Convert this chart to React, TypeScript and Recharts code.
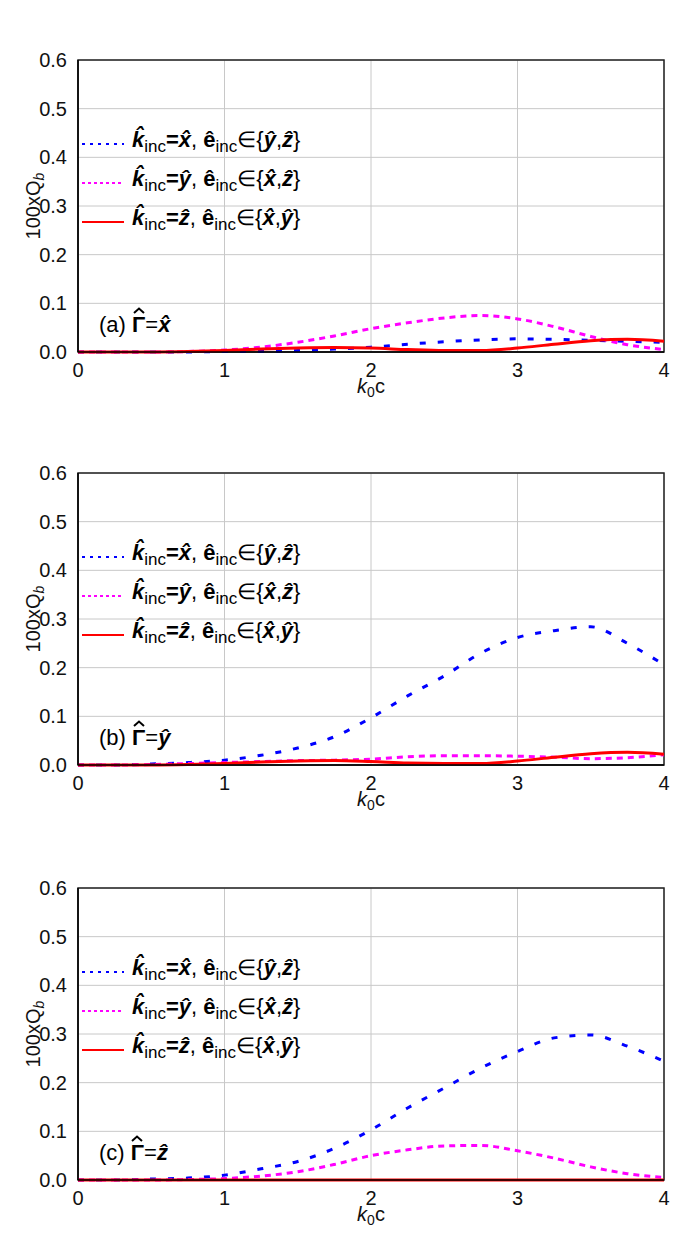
import React from "react";
import { LineChart, Line, XAxis, YAxis, CartesianGrid, ReferenceArea } from "recharts";

// k0c sample points
const kc = [0, 0.25, 0.5, 0.75, 1, 1.25, 1.5, 1.75, 2, 2.25, 2.5, 2.75, 3, 3.25, 3.5, 3.75, 4];

// (a) Gamma = x
const aKx = [0, 0, 0, 0, 0.001, 0.001, 0.003, 0.006, 0.01, 0.016, 0.021, 0.025, 0.027, 0.026, 0.024, 0.022, 0.02];
const aKy = [0, 0, 0, 0.001, 0.004, 0.01, 0.02, 0.033, 0.048, 0.06, 0.07, 0.075, 0.068, 0.052, 0.032, 0.015, 0.005];
const aKz = [0, 0, 0, 0.001, 0.003, 0.006, 0.008, 0.009, 0.008, 0.005, 0.003, 0.003, 0.008, 0.016, 0.023, 0.026, 0.022];

// (b) Gamma = y
const bKx = [0, 0, 0.002, 0.005, 0.01, 0.02, 0.035, 0.058, 0.097, 0.142, 0.183, 0.23, 0.262, 0.276, 0.284, 0.25, 0.206];
const bKy = [0, 0, 0.001, 0.003, 0.005, 0.007, 0.009, 0.01, 0.012, 0.017, 0.019, 0.019, 0.018, 0.016, 0.013, 0.015, 0.021];
const bKz = [0, 0, 0, 0.001, 0.003, 0.006, 0.008, 0.009, 0.007, 0.004, 0.003, 0.003, 0.008, 0.016, 0.023, 0.026, 0.022];

// (c) Gamma = z
const cKx = [0, 0, 0.002, 0.004, 0.01, 0.023, 0.038, 0.065, 0.103, 0.148, 0.189, 0.23, 0.264, 0.292, 0.298, 0.275, 0.244];
const cKy = [0, 0, 0, 0.001, 0.003, 0.008, 0.017, 0.032, 0.05, 0.062, 0.07, 0.071, 0.06, 0.045, 0.027, 0.013, 0.005];
const cKz = [0, 0, 0, 0, 0, 0, 0, 0, 0, 0, 0, 0, 0, 0, 0, 0, 0];

const xTicks = [0, 1, 2, 3, 4];
const yTicks = [0, 0.1, 0.2, 0.3, 0.4, 0.5, 0.6];

const FONT = "'Liberation Sans', Arial, sans-serif";
const HAT = "\u0302";

const series = [
  { key: "kx", color: "#0000ff", dash: "6 12", legendDash: "3 5", k: "x", e: ["y", "z"] },
  { key: "ky", color: "#ff00ff", dash: "6 5", legendDash: "3 3", k: "y", e: ["x", "z"] },
  { key: "kz", color: "#ff0000", dash: undefined, legendDash: undefined, k: "z", e: ["x", "y"] },
];

const bi: React.CSSProperties = { fontWeight: 700, fontStyle: "italic" };
const sub: React.CSSProperties = { fontSize: 17, fontWeight: 400, fontStyle: "normal", verticalAlign: -5 };

// capital letter with a drawn hat on top
const CapHat = ({ ch }: { ch: string }) => (
  <span style={{ position: "relative", display: "inline-block", fontWeight: 700 }}>
    {ch}
    <svg width={12} height={7} style={{ position: "absolute", left: "50%", marginLeft: -6, top: -5 }}>
      <polyline points="1,6 6,1.5 11,6" fill="none" stroke="#000" strokeWidth={2} />
    </svg>
  </span>
);

const LegendBox = () => (
  <div style={{ fontFamily: FONT, fontSize: 22, color: "#000" }}>
    {series.map((s) => (
      <div key={s.key} style={{ display: "flex", alignItems: "center", whiteSpace: "nowrap", height: 39 }}>
        <svg width={46} height={10} style={{ marginRight: 6 }}>
          <line x1={2} y1={5} x2={44} y2={5} stroke={s.color} strokeWidth={2} strokeDasharray={s.legendDash} />
        </svg>
        <span style={{ lineHeight: "26px" }}>
          <span style={bi}>{"k" + HAT}</span>
          <span style={sub}>inc</span>
          <b>=</b>
          <span style={bi}>{s.k + HAT}</span>, <b>{"e" + HAT}</b>
          <span style={sub}>inc</span>∈{"{"}
          <span style={bi}>{s.e[0] + HAT}</span>,<span style={bi}>{s.e[1] + HAT}</span>
          {"}"}
        </span>
      </div>
    ))}
  </div>
);

const XLabel = ({ viewBox }: any) => {
  const { x, y, width } = viewBox;
  return (
    <text x={x + width / 2} y={y + 41} textAnchor="middle" fontSize={20} fontFamily={FONT} fill="#111">
      <tspan fontStyle="italic">k</tspan>
      <tspan fontSize={14} dy={4}>0</tspan>
      <tspan dy={-4}>c</tspan>
    </text>
  );
};

const YLabel = ({ viewBox }: any) => {
  const { y, height } = viewBox;
  const cx = 40;
  const cy = y + height / 2;
  return (
    <text x={cx} y={cy} transform={`rotate(-90, ${cx}, ${cy})`} textAnchor="middle" fontSize={20} fontFamily={FONT} fill="#111">
      <tspan>100xQ</tspan>
      <tspan fontSize={14} fontStyle="italic" dy={4}>b</tspan>
    </text>
  );
};

type PanelProps = { tag: string; gamma: string; kx: number[]; ky: number[]; kz: number[] };

const Panel = ({ tag, gamma, kx, ky, kz }: PanelProps) => {
  const data = kc.map((x, i) => ({ x, kx: kx[i], ky: ky[i], kz: kz[i] }));
  const tick = { fontSize: 20, fontFamily: FONT, fill: "#111" };
  return (
    <div style={{ position: "relative", width: 692, height: 413 }}>
      <LineChart width={692} height={413} data={data} margin={{ top: 60, right: 28, left: 0, bottom: 21 }}>
        <CartesianGrid stroke="#c8c8c8" strokeWidth={1} />
        <XAxis
          dataKey="x"
          type="number"
          domain={[0, 4]}
          ticks={xTicks}
          tickLine={false}
          axisLine={{ stroke: "#000", strokeWidth: 1.5 }}
          tick={tick}
          tickMargin={5}
          height={40}
          label={<XLabel />}
        />
        <YAxis
          type="number"
          domain={[0, 0.6]}
          ticks={yTicks}
          tickFormatter={(v: number) => v.toFixed(1)}
          tickLine={false}
          axisLine={{ stroke: "#000", strokeWidth: 1.5 }}
          tick={tick}
          tickMargin={5}
          width={78}
          label={<YLabel />}
        />
        <ReferenceArea x1={0} x2={4} y1={0} y2={0.6} fill="none" stroke="#222" strokeWidth={1.5} />
        {series.map((s) => (
          <Line
            key={s.key}
            dataKey={s.key}
            type="monotone"
            stroke={s.color}
            strokeWidth={3}
            strokeDasharray={s.dash}
            dot={false}
            isAnimationActive={false}
          />
        ))}
      </LineChart>
      <div style={{ position: "absolute", left: 80, top: 124 }}>
        <LegendBox />
      </div>
      <div style={{ position: "absolute", left: 99, top: 312, fontFamily: FONT, fontSize: 22, color: "#000", lineHeight: "26px" }}>
        ({tag}) <CapHat ch="Γ" />=<span style={bi}>{gamma + HAT}</span>
      </div>
    </div>
  );
};

export default function App() {
  return (
    <div style={{ position: "absolute", left: 0, top: 0, width: 692, height: 1249, background: "#fff" }}>
      <Panel tag="a" gamma="x" kx={aKx} ky={aKy} kz={aKz} />
      <Panel tag="b" gamma="y" kx={bKx} ky={bKy} kz={bKz} />
      <div style={{ height: 2 }} />
      <Panel tag="c" gamma="z" kx={cKx} ky={cKy} kz={cKz} />
    </div>
  );
}
